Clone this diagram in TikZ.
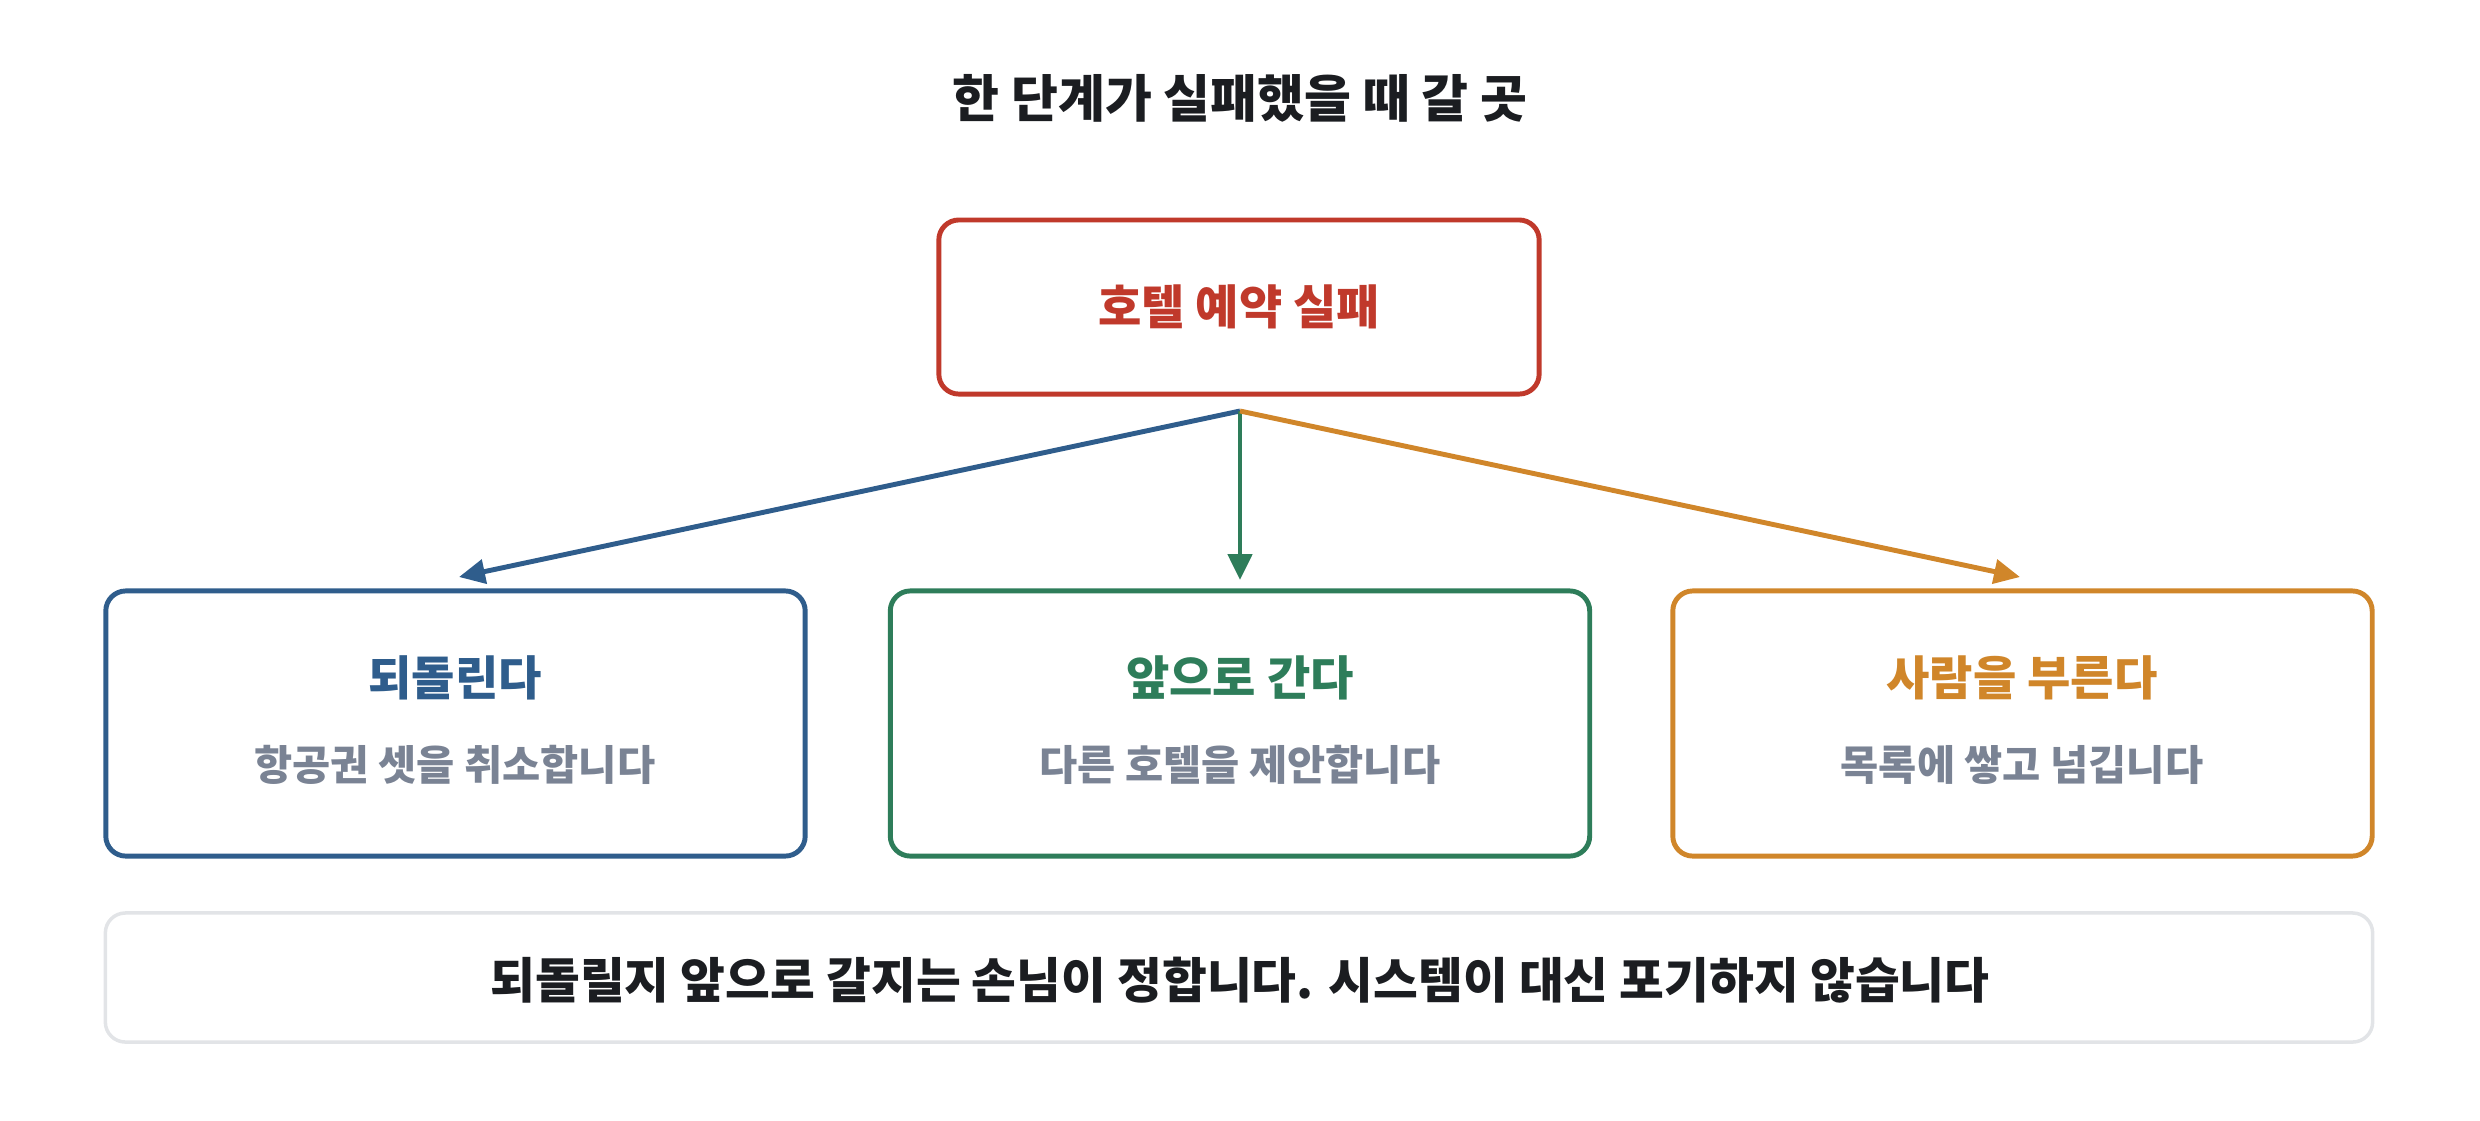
\documentclass[tikz,border=0pt]{standalone}
\usepackage{fontspec}
\setmainfont{Noto Sans CJK KR}
\usetikzlibrary{arrows.meta}
\definecolor{cred}{HTML}{C0392B}
\definecolor{cblue}{HTML}{2F5D8C}
\definecolor{cgreen}{HTML}{2E7D5A}
\definecolor{corange}{HTML}{D0862A}
\definecolor{cgray}{HTML}{7A8394}
\definecolor{cdark}{HTML}{1B1D21}
\definecolor{cline}{HTML}{E2E4E7}
\tikzset{
  box/.style={draw, line width=1.4pt, rounded corners=0.2cm, fill=white, minimum width=6.99cm, minimum height=2.65cm},
  head/.style={font=\bfseries\fontsize{13.4}{16}\selectfont},
  sub/.style={font=\bfseries\fontsize{11.8}{14}\selectfont, text=cgray},
  conn/.style={line width=1.4pt, -{Triangle[length=0.26cm,width=0.24cm]}},
}
\begin{document}
\begin{tikzpicture}[x=0.01cm,y=-0.01cm]
\useasboundingbox (0,0) rectangle (2480,1120);
\node[font=\bfseries\fontsize{14.5}{17}\selectfont, text=cdark] (title) at (1240,98) {한 단계가 실패했을 때 갈 곳};
\node[box, draw=cred, minimum width=6cm, minimum height=1.74cm] (topbox) at (1239,307) {};
\node[head, text=cred] (top) at (1239,307) {호텔 예약 실패};
\node[box, draw=cblue] (b1) at (455.5,723.5) {};
\node[box, draw=cgreen] (b2) at (1240,723.5) {};
\node[box, draw=corange] (b3) at (2022.5,723.5) {};
\node[head, text=cblue] (h1) at (455,678) {되돌린다};
\node[sub] (s1) at (455,765) {항공권 셋을 취소합니다};
\node[head, text=cgreen] (h2) at (1240,678) {앞으로 간다};
\node[sub] (s2) at (1240,765) {다른 호텔을 제안합니다};
\node[head, text=corange] (h3) at (2022,678) {사람을 부른다};
\node[sub] (s3) at (2022,765) {목록에 쌓고 넘깁니다};
\node[draw=cline, line width=1pt, rounded corners=0.2cm, minimum width=22.66cm, minimum height=1.29cm] (notebox) at (1239,977.5) {};
\node[font=\bfseries\fontsize{13.85}{16}\selectfont, text=cdark] (note) at (1240,980) {되돌릴지 앞으로 갈지는 손님이 정합니다. 시스템이 대신 포기하지 않습니다};
\coordinate (src) at (1240,411);
\coordinate (e1) at (459,577);
\coordinate (e2) at (1240,580);
\coordinate (e3) at (2020,577);
\draw[conn, cblue] (src) -- (e1);
\draw[conn, cgreen] (src) -- (e2);
\draw[conn, corange] (src) -- (e3);
\end{tikzpicture}
\end{document}
